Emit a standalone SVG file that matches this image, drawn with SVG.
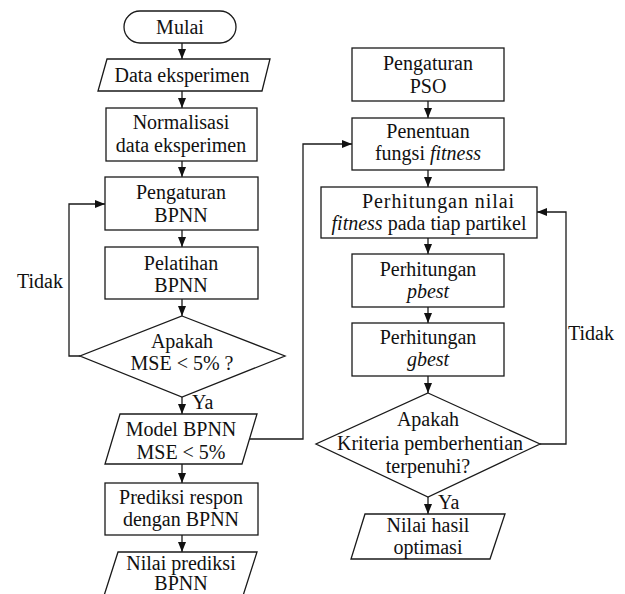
<svg xmlns="http://www.w3.org/2000/svg" width="625" height="594" viewBox="0 0 625 594">
<defs>
<style>
.s{fill:#fff;stroke:#1a1a1a;stroke-width:1.3}
.c{fill:none;stroke:#1a1a1a;stroke-width:1.3}
text{font-family:"Liberation Serif","Times New Roman",serif;font-size:20px;fill:#111;text-anchor:middle}
.l{text-anchor:start}
.i{font-style:italic}
</style>
<marker id="ah" markerUnits="userSpaceOnUse" markerWidth="10" markerHeight="10" viewBox="0 0 10 10" refX="10" refY="5" orient="auto">
<path d="M0,1 L10,5 L0,9 Z" fill="#111"/>
</marker>
</defs>
<rect width="625" height="594" fill="#fff"/>
<g id="connectors">
<path class="c" d="M182,43 V59" marker-end="url(#ah)"/>
<path class="c" d="M182,91 V108" marker-end="url(#ah)"/>
<path class="c" d="M182,161 V177" marker-end="url(#ah)"/>
<path class="c" d="M182,230 V247" marker-end="url(#ah)"/>
<path class="c" d="M182,299 V316" marker-end="url(#ah)"/>
<path class="c" d="M182,397 V414" marker-end="url(#ah)"/>
<path class="c" d="M80,356 H69 V204 H105" marker-end="url(#ah)"/>
<path class="c" d="M182,464 V483" marker-end="url(#ah)"/>
<path class="c" d="M182,535 V552" marker-end="url(#ah)"/>
<path class="c" d="M250,439 H303 V144 H352" marker-end="url(#ah)"/>
<path class="c" d="M428,101 V118" marker-end="url(#ah)"/>
<path class="c" d="M428,170 V187" marker-end="url(#ah)"/>
<path class="c" d="M428,238 V254" marker-end="url(#ah)"/>
<path class="c" d="M428,307 V323" marker-end="url(#ah)"/>
<path class="c" d="M428,376 V393" marker-end="url(#ah)"/>
<path class="c" d="M428,497 V514" marker-end="url(#ah)"/>
<path class="c" d="M540,444 H566 V212 H537" marker-end="url(#ah)"/>
<text class="l" x="17" y="288">Tidak</text>
<text class="l" x="192" y="409">Ya</text>
<text class="l" x="568" y="340">Tidak</text>
<text class="l" x="438" y="509">Ya</text>
</g>
<g id="mulai">
<rect class="s" x="124" y="11" width="112" height="32" rx="16"/>
<text x="180" y="34">Mulai</text>
</g>
<g id="data-eksperimen">
<polygon class="s" points="107,59 270,59 262,91 98,91"/>
<text x="182" y="82">Data eksperimen</text>
</g>
<g id="normalisasi">
<rect class="s" x="106" y="108" width="151" height="53"/>
<text x="181" y="129">Normalisasi</text>
<text x="181" y="152">data eksperimen</text>
</g>
<g id="pengaturan-bpnn">
<rect class="s" x="105" y="177" width="153" height="53"/>
<text x="181" y="199">Pengaturan</text>
<text x="181" y="222">BPNN</text>
</g>
<g id="pelatihan-bpnn">
<rect class="s" x="105" y="247" width="153" height="52"/>
<text x="181" y="270">Pelatihan</text>
<text x="181" y="292">BPNN</text>
</g>
<g id="cek-mse">
<polygon class="s" points="182,316 285,356 182,397 80,356"/>
<text x="182" y="348">Apakah</text>
<text x="182" y="370">MSE &lt; 5% ?</text>
</g>
<g id="model-bpnn">
<polygon class="s" points="120,414 257,414 242,464 105,464"/>
<text x="181" y="436">Model BPNN</text>
<text x="181" y="459">MSE &lt; 5%</text>
</g>
<g id="prediksi">
<rect class="s" x="105" y="483" width="153" height="52"/>
<text x="181" y="504">Prediksi respon</text>
<text x="181" y="526">dengan BPNN</text>
</g>
<g id="nilai-prediksi">
<polygon class="s" points="118,552 257,552 241,602 102,602"/>
<text x="181" y="570">Nilai prediksi</text>
<text x="181" y="590">BPNN</text>
</g>
<g id="pengaturan-pso">
<rect class="s" x="352" y="48" width="152" height="53"/>
<text x="428" y="70">Pengaturan</text>
<text x="428" y="93">PSO</text>
</g>
<g id="penentuan-fitness">
<rect class="s" x="352" y="118" width="152" height="52"/>
<text x="428" y="138">Penentuan</text>
<text x="428" y="160">fungsi <tspan class="i">fitness</tspan></text>
</g>
<g id="perhitungan-fitness">
<rect class="s" x="321" y="187" width="216" height="51"/>
<text x="438" y="208" textLength="152">Perhitungan nilai</text>
<text x="429" y="230"><tspan class="i">fitness</tspan>  pada tiap partikel</text>
</g>
<g id="perhitungan-pbest">
<rect class="s" x="352" y="254" width="152" height="53"/>
<text x="428" y="276">Perhitungan</text>
<text x="428" y="298" class="i">pbest</text>
</g>
<g id="perhitungan-gbest">
<rect class="s" x="352" y="323" width="152" height="53"/>
<text x="428" y="344">Perhitungan</text>
<text x="428" y="366" class="i">gbest</text>
</g>
<g id="cek-kriteria">
<polygon class="s" points="428,393 540,444 428,497 316,444"/>
<text x="428" y="426">Apakah</text>
<text x="430" y="450">Kriteria pemberhentian</text>
<text x="428" y="473">terpenuhi?</text>
</g>
<g id="nilai-hasil">
<polygon class="s" points="365,514 505,514 490,559 351,559"/>
<text x="428" y="532">Nilai hasil</text>
<text x="428" y="554">optimasi</text>
</g>
</svg>
